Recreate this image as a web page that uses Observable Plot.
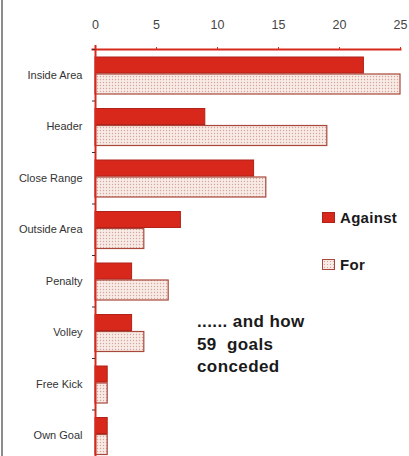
<!DOCTYPE html>
<html><head><meta charset="utf-8">
<script src="https://cdn.jsdelivr.net/npm/d3@7"></script>
<script src="https://cdn.jsdelivr.net/npm/@observablehq/plot@0.6"></script>
<style>
html,body{margin:0;padding:0;background:#fff;overflow:hidden;}
#wrap{position:relative;width:409px;height:456px;overflow:hidden;font-family:"Liberation Sans",Arial,sans-serif;}
#chart{position:absolute;left:0;top:0;}
#border{position:absolute;left:1px;top:0;width:2px;height:456px;background:#8c8c8c;}
.leg{position:absolute;left:322px;display:flex;align-items:center;font-weight:bold;font-size:15px;line-height:17px;color:#1a1a1a;letter-spacing:0.3px;}
.sw{width:13px;height:11px;margin-right:5px;box-sizing:border-box;}
#note{position:absolute;left:197px;top:311px;font-weight:bold;font-size:17px;line-height:22.5px;color:#1a1a1a;white-space:pre;letter-spacing:0.4px;}
</style></head><body><div id="wrap"><div id="chart"></div><div id="border"></div><div id="legend"></div><div id="note"></div></div>
<script>
const categories = ["Inside Area","Header","Close Range","Outside Area","Penalty","Volley","Free Kick","Own Goal"];
const against = [22,9,13,7,3,3,1,1];
const forGoals = [25,19,14,4,6,4,1,1];
const xTicks = [0,5,10,15,20,25];
const seriesNames = ["Against","For"];
const noteLines = ["...... and how","59  goals","conceded"];

const RED = "#d8281c";
const rows = categories.map((c,i)=>({category:c, against:against[i], for:forGoals[i]}));

const svg = Plot.plot({
  width:409, height:461, marginTop:49, marginBottom:0, marginLeft:95, marginRight:9,
  style:{fontFamily:"Liberation Sans, Arial, sans-serif", background:"transparent", overflow:"visible"},
  x:{domain:[0,25], axis:null},
  y:{domain:categories, padding:0, round:false, axis:null},
  marks:[
    Plot.barX(rows,{x:"for", y:"category", insetTop:25, insetBottom:6.5, fill:"url(#dots)", stroke:"#a8483a", strokeWidth:1.2}),
    Plot.barX(rows,{x:"against", y:"category", insetTop:8, insetBottom:27.5, fill:RED, stroke:"#b0221a", strokeWidth:1}),
    Plot.axisX(xTicks,{anchor:"top", label:null, tickSize:3, tickPadding:18, stroke:RED, fill:"#444", fontSize:12.5, tickFormat:d=>String(d)}),
    Plot.frame({anchor:"top", stroke:RED, strokeWidth:2, insetLeft:-3}),
    Plot.ruleX([0],{stroke:RED, strokeWidth:2, insetTop:-4}),
    Plot.axisY({anchor:"left", label:null, tickSize:3, dy:-25.75, fill:"none", stroke:"#333"}),
    Plot.axisY({anchor:"left", label:null, tickSize:0, tickPadding:13, fill:"#333", fontSize:11})
  ]
});
const ns = "http://www.w3.org/2000/svg";
const defs = document.createElementNS(ns,"defs");
defs.innerHTML = '<pattern id="dots" patternUnits="userSpaceOnUse" width="3" height="3"><rect width="3" height="3" fill="#f8ebe6"/><circle cx="1.5" cy="1.5" r="0.7" fill="#d4a59c"/></pattern>';
svg.insertBefore(defs, svg.firstChild);
document.getElementById("chart").appendChild(svg);

const legend = document.getElementById("legend");
const swatchStyles = [
  `background:${RED};border:1px solid #b0221a;`,
  `background:#f8ebe6 radial-gradient(#d4a59c 0.7px, transparent 0.9px) 0 0/3px 3px;border:1px solid #a8483a;`
];
const legTops = [208.5, 255.5];
seriesNames.forEach((name,i)=>{
  const d = document.createElement("div");
  d.className = "leg";
  d.style.top = legTops[i] + "px";
  d.innerHTML = `<span class="sw" style="${swatchStyles[i]}"></span><span>${name}</span>`;
  legend.appendChild(d);
});
document.getElementById("note").textContent = noteLines.join("\n");
</script></body></html>
